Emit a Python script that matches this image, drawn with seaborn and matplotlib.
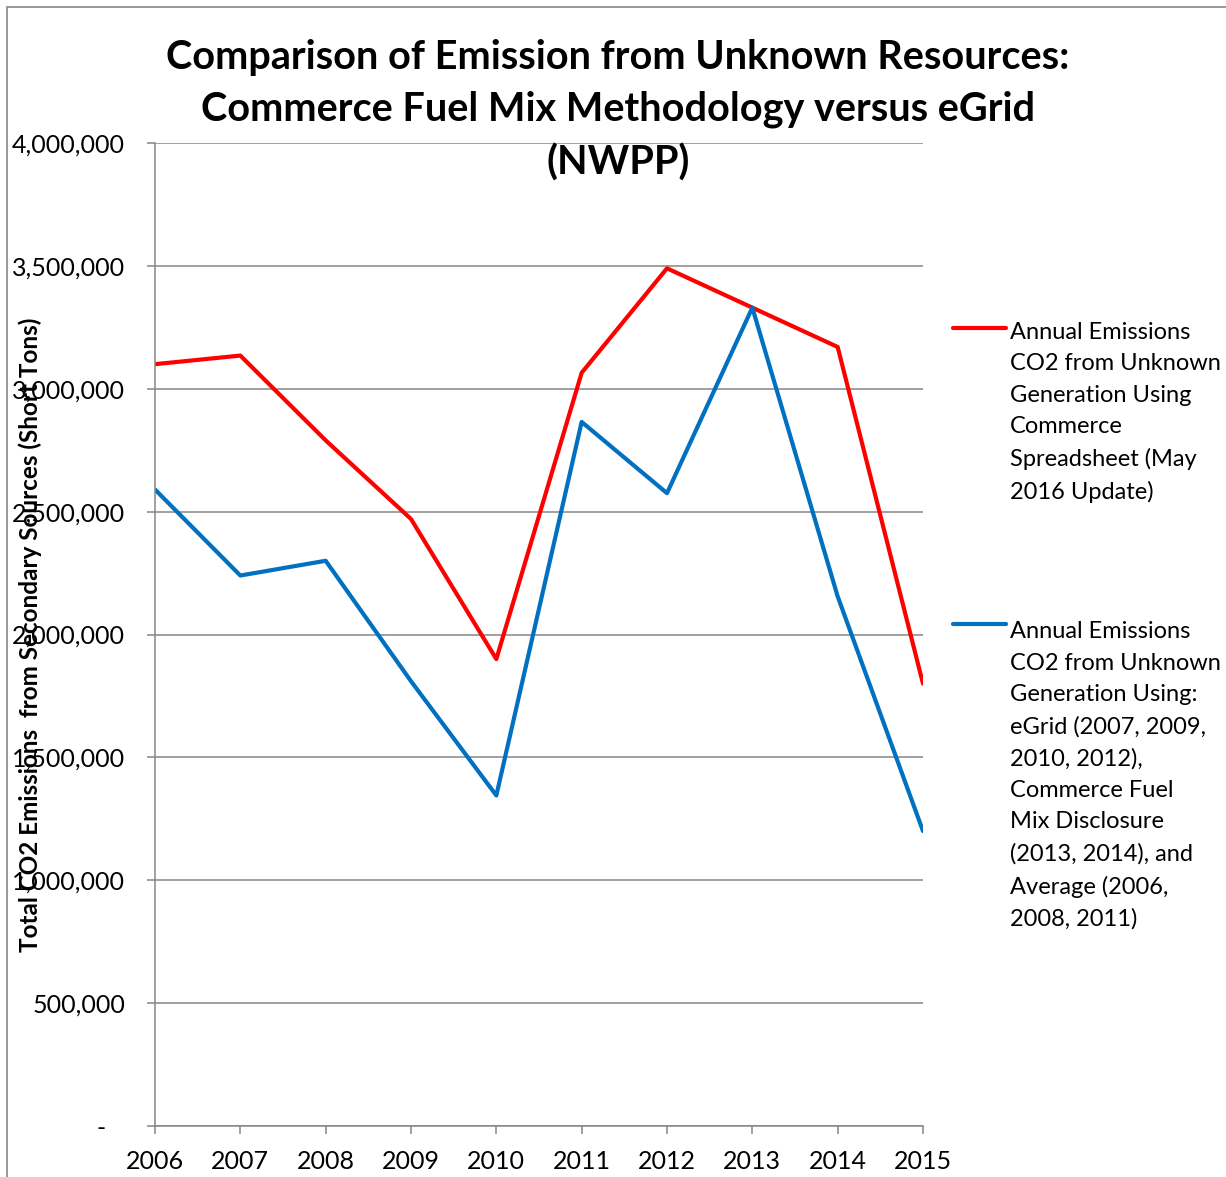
import numpy as np
import pandas as pd
import matplotlib
matplotlib.use('Agg')
import matplotlib.pyplot as plt
import matplotlib.ticker as mticker
from matplotlib.patches import Rectangle
import seaborn as sns

# Data
years = [2006, 2007, 2008, 2009, 2010, 2011, 2012, 2013, 2014, 2015]
commerce = [3100000, 3135000, 2790000, 2470000, 1900000, 3065000, 3490000, 3330000, 3170000, 1800000]
egrid = [2590000, 2240000, 2300000, 1810000, 1345000, 2865000, 2575000, 3330000, 2155000, 1200000]

label_commerce = ("Annual Emissions\nCO2 from Unknown\nGeneration Using\nCommerce\n"
                  "Spreadsheet (May\n2016 Update)")
label_egrid = ("Annual Emissions\nCO2 from Unknown\nGeneration Using:\neGrid (2007, 2009,\n"
               "2010, 2012),\nCommerce Fuel\nMix Disclosure\n(2013, 2014), and\nAverage (2006,\n2008, 2011)")

title = ("Comparison of Emission from Unknown Resources:\n"
         "Commerce Fuel Mix Methodology versus eGrid\n(NWPP)")
ylabel = "Total CO2 Emissions  from Secondary Sources (Short Tons)"

df = pd.DataFrame({
    'year': years + years,
    'emissions': commerce + egrid,
    'series': [label_commerce] * len(years) + [label_egrid] * len(years),
})

sns.set_style('white')
plt.rcParams['font.family'] = ['Lato', 'DejaVu Sans']
plt.rcParams['text.color'] = 'black'
plt.rcParams['xtick.labelcolor'] = 'black'
plt.rcParams['ytick.labelcolor'] = 'black'

grey = '#868686'
fig = plt.figure(figsize=(12.26, 11.77), dpi=100)
ax = fig.add_axes([155 / 1226, 1 - 1126 / 1177, 768 / 1226, 983 / 1177])

sns.lineplot(data=df, x='year', y='emissions', hue='series',
             palette=['#FF0000', '#0070C0'], linewidth=3, ax=ax)

ax.set_xlim(2006, 2015)
ax.set_ylim(0, 4000000)
ax.set_xticks(years)
ax.set_yticks(np.arange(0, 4000001, 500000))
ax.yaxis.set_major_formatter(mticker.FuncFormatter(
    lambda v, p: '-   ' if v == 0 else f'{v:,.0f}'))
ax.set_xlabel('')
ax.set_ylabel('')

ax.tick_params(axis='both', which='major', direction='out', length=5.5, width=1.1,
               color=grey, labelsize=18, bottom=True, left=True)
ax.tick_params(axis='y', pad=16)
ax.tick_params(axis='x', pad=12)
ax.yaxis.grid(True, color=grey, linewidth=1.1)
ax.xaxis.grid(False)
ax.set_axisbelow(True)
for side in ['top', 'right']:
    ax.spines[side].set_visible(False)
for side in ['left', 'bottom']:
    ax.spines[side].set_color(grey)
    ax.spines[side].set_linewidth(1.1)

# Legend on the right, handle next to first line of each label
handles, labels = ax.get_legend_handles_labels()
leg = ax.legend(handles, labels, loc='upper left', bbox_to_anchor=(1.039, 0.818),
                frameon=False, fontsize=17, handlelength=2.25, handletextpad=0.17,
                labelspacing=5.0, borderpad=0, borderaxespad=0)
linesp = 1.61
for t in leg.get_texts():
    t.set_linespacing(linesp)
for ln in leg.get_lines():
    ln.set_linewidth(3)

fig.text(0.504, 0.967, title, ha='center', va='top', fontsize=28.5,
         fontweight='bold', linespacing=1.5)
fig.text(30 / 1226, 1 - 635 / 1177, ylabel, rotation=90, ha='center', va='center',
         fontsize=17.5, fontweight='bold')

# grey frame around the chart area
fig.add_artist(Rectangle((7 / 1226, -0.05), 2, 1.05 - 7 / 1177, transform=fig.transFigure,
                         fill=False, edgecolor=grey, linewidth=1.2))

fig.canvas.draw()
renderer = fig.canvas.get_renderer()
for t, ln in zip(leg.get_texts(), leg.get_lines()):
    n = len(t.get_text().split('\n'))
    _, h_lp, _ = renderer.get_text_width_height_descent('lp', t.get_fontproperties(), ismath=False)
    shift = (n - 1) / 2 * linesp * h_lp * 72 / fig.dpi
    ln.set_ydata(np.asarray(ln.get_ydata()) + shift)

fig.savefig('out.png', dpi=100)
